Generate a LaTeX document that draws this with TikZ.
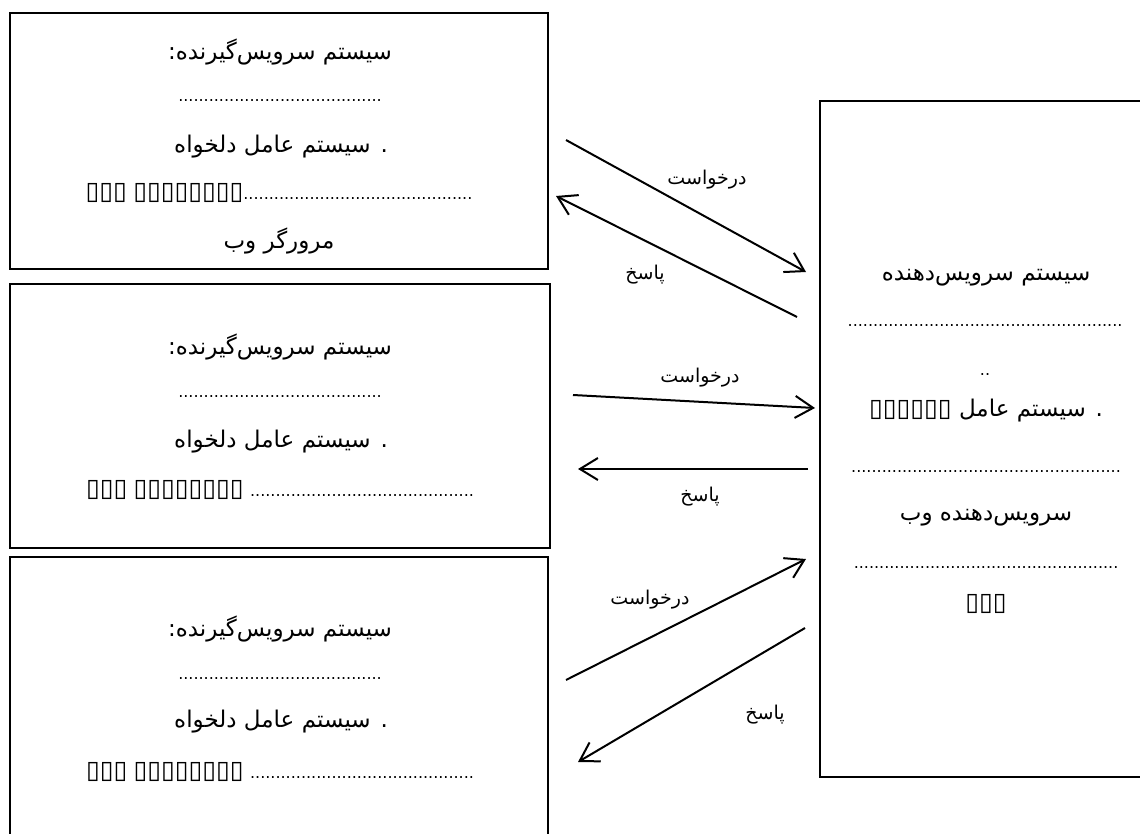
\documentclass[tikz,border=0pt]{standalone}
\usepackage{fontspec}
\setmainfont{DejaVu Sans}
\newfontfamily\farsi[Script=Arabic]{DejaVu Sans}
\TeXXeTstate=1
\usetikzlibrary{arrows.meta}
\tikzset{
    txt/.style={inner sep=0pt, font=\farsi\fontsize{11.5}{14}\selectfont},
    lbl/.style={inner sep=0pt, font=\farsi\fontsize{9.5}{11}\selectfont},
    mixline/.style={inner sep=0pt},
    dotline/.style={inner sep=0pt, anchor=base},
    frame/.style={line width=1.1pt},
    msg/.style={line width=1pt, -{Straight Barb[length=9pt,width=11pt]}}}
\newcommand{\fa}[1]{\beginR #1\endR}
\newcommand{\dotrun}[1]{{\fontsize{8}{10}\selectfont\foreach \k in {1,...,#1}{.}}}
\newcommand{\tofu}[1]{{\fontsize{12.5}{14}\selectfont\foreach \k in {1,...,#1}{▯}}}

\begin{document}
\begin{tikzpicture}[x=0.5pt,y=-0.5pt]
\useasboundingbox (0,0) rectangle (1140,834);
\clip (0,0) rectangle (1140,834);

% client boxes and server box
\coordinate (C1a) at (10,13) ;
\coordinate (C1b) at (548,269) ;
\coordinate (C2a) at (10,284) ;
\coordinate (C2b) at (550,548) ;
\coordinate (C3a) at (10,557) ;
\coordinate (C3b) at (548,860) ;
\coordinate (Sa) at (820,101) ;
\coordinate (Sb) at (1160,777) ;
\draw [frame](C1a) rectangle (C1b);
\draw [frame](C2a) rectangle (C2b);
\draw [frame](C3a) rectangle (C3b);
\draw [frame](Sa) rectangle (Sb);

% client 1
\node[txt] (h1) at (280,52) {\fa{سیستم سرویس‌گیرنده:}};
\node[dotline] (d1) at (280,102) {\dotrun{40}};
\node[txt] (os1) at (281,147) {\fa{. سیستم عامل دلخواه}};
\node[mixline] (x1) at (279,193) {\tofu{3} \tofu{8}\dotrun{45}};
\node[txt] (br1) at (279,241) {\fa{مرورگر وب}};

% client 2
\node[txt] (h2) at (280,347) {\fa{سیستم سرویس‌گیرنده:}};
\node[dotline] (d2) at (280,397) {\dotrun{40}};
\node[txt] (os2) at (281,442) {\fa{. سیستم عامل دلخواه}};
\node[mixline] (x2) at (280,490) {\tofu{3} \tofu{8} \dotrun{44}};

% client 3
\node[txt] (h3) at (280,629) {\fa{سیستم سرویس‌گیرنده:}};
\node[dotline] (d3) at (280,679) {\dotrun{40}};
\node[txt] (os3) at (281,722) {\fa{. سیستم عامل دلخواه}};
\node[mixline] (x3) at (280,772) {\tofu{3} \tofu{8} \dotrun{44}};

% server
\node[txt] (sh) at (986,278) {\fa{سیستم سرویس‌دهنده}};
\node[dotline] (sd1) at (985,327) {\dotrun{54}};
\node[dotline] (sd0) at (985,375) {\dotrun{2}};
\node[txt] (sos) at (986,411) {\fa{. سیستم عامل \tofu{6}}};
\node[dotline] (sd2) at (986,472) {\dotrun{53}};
\node[txt] (sw) at (986,518) {\fa{سرویس‌دهنده وب}};
\node[dotline] (sd3) at (986,568) {\dotrun{52}};
\node[mixline] (sx) at (986,604) {\tofu{3}};

% requests and responses
\coordinate (Q1) at (566,140) ;
\coordinate (Q1e) at (806,272) ;
\coordinate (R1) at (797,317) ;
\coordinate (R1e) at (556,196) ;
\coordinate (Q2) at (573,395) ;
\coordinate (Q2e) at (815,408) ;
\coordinate (R2) at (808,469) ;
\coordinate (R2e) at (578,469) ;
\coordinate (Q3) at (566,680) ;
\coordinate (Q3e) at (806,559) ;
\coordinate (R3) at (805,628) ;
\coordinate (R3e) at (578,762) ;
\draw [msg](Q1)--(Q1e);
\draw [msg](R1)--(R1e);
\draw [msg](Q2)--(Q2e);
\draw [msg](R2)--(R2e);
\draw [msg](Q3)--(Q3e);
\draw [msg](R3)--(R3e);
\node[lbl] (lq1) at (707,180) {\fa{درخواست}};
\node[lbl] (lr1) at (645,275) {\fa{پاسخ}};
\node[lbl] (lq2) at (700,378) {\fa{درخواست}};
\node[lbl] (lr2) at (700,497) {\fa{پاسخ}};
\node[lbl] (lq3) at (650,600) {\fa{درخواست}};
\node[lbl] (lr3) at (765,715) {\fa{پاسخ}};
\end{tikzpicture}
\end{document}
